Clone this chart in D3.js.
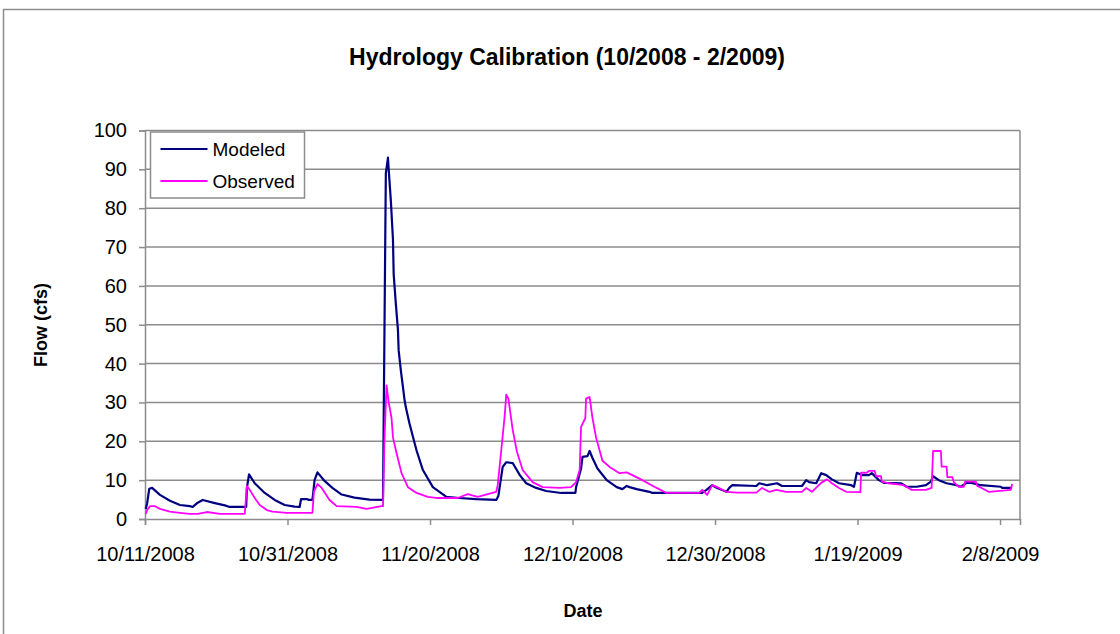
<!DOCTYPE html>
<html>
<head>
<meta charset="utf-8">
<script src="https://cdn.jsdelivr.net/npm/d3@7"></script>
<style>
  html, body { margin: 0; padding: 0; background: #fff; }
  svg { display: block; font-family: "Liberation Sans", Arial, sans-serif; }
</style>
</head>
<body>
<svg id="chart" width="1120" height="634"></svg>
<script>
// ============ 数据 ============
// 日期以 10/11/2008 起的天数表示，流量单位 cfs
const startDate = new Date(2008, 9, 11);
const seriesNames = ['Modeled', 'Observed'];
const seriesColors = ['#000080', '#ff00ff'];
const yTicks = [0, 10, 20, 30, 40, 50, 60, 70, 80, 90, 100];
const tickDates = ['10/11/2008', '10/31/2008', '11/20/2008', '12/10/2008', '12/30/2008', '1/19/2009', '2/8/2009'];

const modeled = [
  [0.1, 2.6], [0.3, 4], [0.6, 7.8], [1.0, 8], [2.1, 6.2], [3.5, 4.7], [4.9, 3.6], [6.3, 3.3],
  [6.7, 3.1], [7.4, 4.2], [8.1, 4.9], [9.8, 4.1], [11.2, 3.5], [11.9, 3.1], [14.2, 3.1],
  [14.3, 8], [14.6, 11.5], [15.4, 9.2], [16.8, 6.7], [18.2, 4.9], [19.6, 3.6], [21.0, 3.2],
  [21.7, 3.1], [21.9, 5.1], [22.8, 5.1], [23.0, 4.9], [23.5, 4.9], [23.8, 10], [24.2, 12],
  [25.2, 9.8], [26.3, 8], [27.6, 6.3], [29.4, 5.5], [31.5, 5.0], [33.4, 4.9], [33.8, 89],
  [34.1, 93], [34.2, 90], [34.5, 82], [34.8, 72], [34.9, 63], [35.2, 55.5], [35.5, 48.6],
  [35.6, 43.4], [35.9, 38.3], [36.2, 34], [36.4, 31], [36.6, 28.8], [37.1, 24.7],
  [38.1, 17.7], [39.0, 12.6], [40.4, 8.2], [42.3, 5.7], [44.1, 5.4], [46.5, 5.1], [49.3, 4.9],
  [49.6, 6], [50.2, 13.4], [50.7, 14.6], [51.6, 14.4], [52.6, 11.3], [53.5, 9.2], [54.9, 8],
  [56.3, 7.2], [58.4, 6.7], [60.4, 6.7], [60.5, 8.2], [61.2, 13], [61.4, 16], [62.1, 16.2],
  [62.4, 17.5], [62.8, 15.7], [63.5, 13], [64.8, 10], [66.2, 8.2], [67.0, 7.7], [67.6, 8.5],
  [68.0, 8.2], [69.0, 7.7], [70.8, 7], [71.2, 6.7], [78.2, 6.7], [78.8, 7.5], [79.6, 8.7],
  [80.3, 8], [81.6, 7], [82.0, 8], [82.4, 8.7], [85.8, 8.5], [86.2, 9.2], [87.3, 8.7],
  [88.7, 9.2], [89.4, 8.5], [92.2, 8.5], [92.8, 10], [93.2, 9.5], [94.2, 9.2], [94.9, 11.8],
  [95.6, 11.3], [96.4, 10.2], [97.4, 9.2], [99.1, 8.7], [99.5, 8.3], [99.9, 11.9],
  [100.6, 11.3], [101.6, 11.3], [102.0, 11.8], [103.0, 10], [103.7, 9.3], [106.1, 9.2],
  [106.9, 8.3], [108.3, 8.3], [109.6, 8.7], [110.3, 9.6], [110.6, 11], [111.4, 10],
  [112.5, 9.2], [113.9, 8.7], [114.5, 8.3], [115.3, 9.3], [116.0, 9.3], [117.3, 8.7],
  [120.1, 8.3], [120.3, 8], [121.7, 8]
];

const observed = [
  [0.1, 1.3], [0.3, 2.3], [0.7, 3.3], [1.4, 3.3], [2.1, 2.6], [3.5, 1.9], [4.9, 1.6],
  [6.3, 1.3], [7.4, 1.3], [8.7, 1.8], [10.5, 1.3], [14.0, 1.3], [14.3, 8.5], [14.7, 7.5],
  [15.4, 5.4], [16.1, 3.6], [17.1, 2.3], [17.9, 1.9], [19.9, 1.6], [23.5, 1.6], [23.7, 7],
  [24.2, 9], [24.8, 8], [25.9, 4.9], [26.9, 3.3], [29.7, 3.1], [31.1, 2.6], [33.2, 3.3],
  [33.4, 3.3], [33.6, 20], [33.9, 34.4], [34.2, 30], [34.6, 26], [34.8, 21], [35.3, 17],
  [36.0, 11.8], [36.9, 8.2], [38.1, 6.7], [39.7, 5.7], [41.1, 5.4], [43.9, 5.4], [45.3, 6.4],
  [46.7, 5.7], [48.1, 6.4], [49.3, 7], [49.5, 8.7], [50.0, 17.7], [50.5, 27], [50.7, 32],
  [51.0, 31], [51.3, 27], [51.6, 23], [52.2, 17.3], [53.0, 12.6], [54.4, 9.5], [55.8, 8.2],
  [58.2, 8], [59.8, 8.2], [60.5, 9.5], [61.0, 12.6], [61.2, 23.7], [61.8, 26], [61.9, 31],
  [62.4, 31.4], [62.8, 26], [63.3, 21], [64.2, 15], [65.2, 13.4], [66.6, 11.8], [67.6, 12],
  [68.4, 11.3], [69.8, 10], [71.8, 8], [73.2, 6.7], [77.8, 6.7], [78.2, 7.5], [78.9, 6.2],
  [79.6, 8.7], [80.3, 8.2], [81.6, 7], [83.1, 6.8], [85.8, 6.8], [86.6, 8], [87.6, 7],
  [88.6, 7.5], [90.0, 7], [92.2, 7], [92.8, 8], [93.6, 7], [94.9, 9.3], [95.7, 10.2],
  [96.4, 9.2], [97.4, 8], [98.4, 7], [100.4, 6.9], [100.5, 11.9], [101.3, 11.9],
  [101.6, 12.4], [102.4, 12.4], [102.6, 11], [103.3, 11], [103.4, 9.6], [104.4, 9.2],
  [106.5, 8.7], [107.6, 7.5], [109.6, 7.5], [110.4, 8], [110.6, 17.5], [111.7, 17.5],
  [111.8, 13.5], [112.5, 13.5], [112.6, 10.8], [113.3, 10.8], [113.5, 9.5], [114.2, 8.3],
  [114.9, 8.3], [115.1, 9.6], [116.6, 9.6], [116.8, 8.5], [117.4, 8], [118.4, 7],
  [119.6, 7.2], [121.5, 7.5], [121.7, 9]
];

// ============ 布局 ============
const svg = d3.select('#chart');
const plot = { left: 145, right: 1020, top: 130.5, bottom: 519 };
const gridColor = '#8c8c8c';
const parseTick = d3.timeParse('%m/%d/%Y');
const toDate = d => new Date(startDate.getTime() + d * 864e5);

const x = d3.scaleTime()
  .domain([startDate, toDate(122.8)])
  .range([plot.left, plot.right]);

const y = d3.scaleLinear()
  .domain([0, 100])
  .range([plot.bottom, plot.top]);

// 外框
svg.append('rect')
  .attr('x', 3.5).attr('y', 9.5)
  .attr('width', 1130).attr('height', 640)
  .attr('fill', '#fff')
  .attr('stroke', '#8c8c8c')
  .attr('stroke-width', 1.5);

// 标题
svg.append('text')
  .attr('x', 567).attr('y', 65)
  .attr('text-anchor', 'middle')
  .style('font-size', '23px')
  .style('font-weight', 'bold')
  .text('Hydrology Calibration (10/2008 - 2/2009)');

// 网格线
svg.append('g')
  .selectAll('line')
  .data(yTicks.filter(v => v > 0))
  .join('line')
  .attr('x1', plot.left).attr('x2', plot.right)
  .attr('y1', d => y(d)).attr('y2', d => y(d))
  .attr('stroke', gridColor)
  .attr('stroke-width', 1.5);

// 绘图区右边框
svg.append('line')
  .attr('x1', plot.right).attr('x2', plot.right)
  .attr('y1', plot.top).attr('y2', plot.bottom)
  .attr('stroke', gridColor)
  .attr('stroke-width', 1.5);

// Y 轴
const yAxis = svg.append('g')
  .attr('transform', `translate(${plot.left},0)`)
  .call(d3.axisLeft(y).tickValues(yTicks).tickSize(6).tickPadding(12));
yAxis.select('.domain').attr('stroke', gridColor).attr('stroke-width', 1.5);
yAxis.selectAll('.tick line').attr('stroke', gridColor).attr('stroke-width', 1.5);
yAxis.selectAll('.tick text')
  .attr('fill', '#000')
  .style('font-size', '20px')
  .style('font-family', '"Liberation Sans", Arial, sans-serif');

// X 轴
const xAxis = svg.append('g')
  .attr('transform', `translate(0,${plot.bottom})`)
  .call(d3.axisBottom(x)
    .tickValues(tickDates.map(parseTick))
    .tickFormat(d3.timeFormat('%-m/%-d/%Y'))
    .tickSize(6)
    .tickPadding(22));
xAxis.select('.domain').attr('stroke', gridColor).attr('stroke-width', 1.5);
xAxis.selectAll('.tick line').attr('stroke', gridColor).attr('stroke-width', 1.5);
xAxis.selectAll('.tick text')
  .attr('fill', '#000')
  .style('font-size', '20px')
  .style('font-family', '"Liberation Sans", Arial, sans-serif');

// 轴标题
svg.append('text')
  .attr('transform', 'translate(47,325) rotate(-90)')
  .attr('text-anchor', 'middle')
  .style('font-size', '18px')
  .style('font-weight', 'bold')
  .text('Flow (cfs)');

svg.append('text')
  .attr('x', 583).attr('y', 617)
  .attr('text-anchor', 'middle')
  .style('font-size', '18px')
  .style('font-weight', 'bold')
  .text('Date');

// 数据线
const line = d3.line()
  .x(d => x(toDate(d[0])))
  .y(d => y(d[1]));

[modeled, observed].forEach((data, i) => {
  svg.append('path')
    .datum(data)
    .attr('fill', 'none')
    .attr('stroke', seriesColors[i])
    .attr('stroke-width', i === 0 ? 2.2 : 1.8)
    .attr('stroke-linejoin', 'round')
    .attr('d', line);
});

// 图例
const legend = svg.append('g').attr('transform', 'translate(150.5,132)');
legend.append('rect')
  .attr('width', 154).attr('height', 66)
  .attr('fill', '#fff')
  .attr('stroke', gridColor)
  .attr('stroke-width', 1.5);

seriesNames.forEach((name, i) => {
  const ly = 17 + i * 32;
  legend.append('line')
    .attr('x1', 10).attr('x2', 57)
    .attr('y1', ly).attr('y2', ly)
    .attr('stroke', seriesColors[i])
    .attr('stroke-width', 2);
  legend.append('text')
    .attr('x', 62).attr('y', ly + 7)
    .style('font-size', '19px')
    .text(name);
});
</script>
</body>
</html>
